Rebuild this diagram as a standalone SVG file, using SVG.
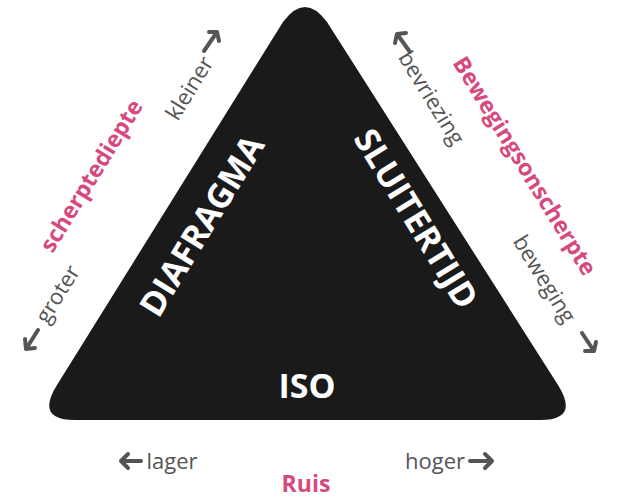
<svg xmlns="http://www.w3.org/2000/svg" width="620" height="500" viewBox="0 0 620 500">
<style>
.w{font-family:"Open Sans","DejaVu Sans",sans-serif;font-weight:bold;fill:#fff;font-size:34px;text-anchor:middle}
.g{font-family:"Open Sans","DejaVu Sans",sans-serif;fill:#555;font-size:22px;text-anchor:middle}
.p{font-family:"Open Sans","DejaVu Sans",sans-serif;font-weight:bold;fill:#d6497f;font-size:23px;text-anchor:middle}
.a{stroke:#555;stroke-width:4;fill:none;stroke-linecap:round;stroke-linejoin:round}
</style>
<g id="triangle"><path d="M283,22 Q305,-8 327,22 L558,385 Q580,420 540,420 L75,420 Q35,420 57,385 Z" fill="#1a1a1a"/></g>
<g id="labels">
<text class="w" transform="translate(212,232) rotate(-58.4)">DIAFRAGMA</text>
<text class="w" transform="translate(406,225) rotate(58.4)">SLUITERTIJD</text>
<text class="w" x="307" y="398">ISO</text>
<text class="g" transform="translate(196,92) rotate(-58.4)">kleiner</text>
<text class="g" transform="translate(64,298) rotate(-58.4)">groter</text>
<text class="p" transform="translate(98,180) rotate(-58.4)">scherptediepte</text>
<text class="g" transform="translate(425,102) rotate(58.4)">bevriezing</text>
<text class="g" transform="translate(538,283) rotate(58.4)">beweging</text>
<text class="p" transform="translate(518,170) rotate(58.4)">Bewegingsonscherpte</text>
<text class="g" x="172" y="469">lager</text>
<text class="g" x="435" y="469">hoger</text>
<text class="p" x="306" y="492">Ruis</text>
</g>
<g id="connectors">
<path class="a" d="M204,51 L217,32 M209,32 L217,32 L219,41"/>
<path class="a" d="M38,330 L26,349 M25,339 L26,349 L35,348"/>
<path class="a" d="M410,52 L397,34 M395,43 L397,34 L406,33"/>
<path class="a" d="M582,333 L594,351 M585,351 L594,351 L596,342"/>
<path class="a" d="M141,461 L121,461 M128,454 L121,461 L128,468"/>
<path class="a" d="M470,461 L492,461 M485,454 L492,461 L485,468"/>
</g>
</svg>
